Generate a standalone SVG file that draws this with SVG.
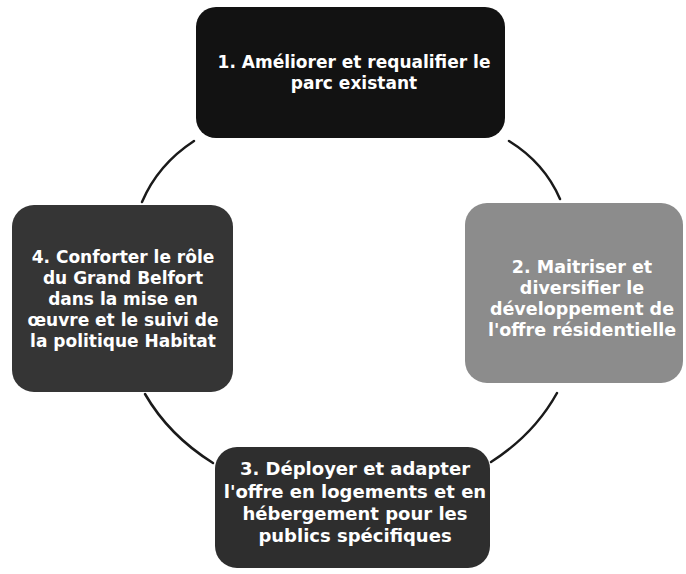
<svg xmlns="http://www.w3.org/2000/svg" width="686" height="574" viewBox="0 0 686 574">
<style>
.box{stroke:none}
.t{font-family:"DejaVu Sans","Liberation Sans",sans-serif;font-weight:bold;fill:#ffffff;text-anchor:middle}
.c{fill:none;stroke:#1a1a1a;stroke-width:2.5;stroke-linecap:round}
</style>
<rect width="686" height="574" fill="#ffffff"/>
<g id="connectors">
<path class="c" d="M194,141 Q158,164.5 142,202"/>
<path class="c" d="M509,141 Q544.5,163 560,199"/>
<path class="c" d="M145,394 Q169,435.5 213,463"/>
<path class="c" d="M557,393 Q534,434.5 491,462"/>
</g>
<g id="node1">
<rect class="box" x="196" y="7" width="309" height="131" rx="20" fill="#121212"/>
<text class="t" font-size="17" x="354"><tspan x="354" y="68">1. Améliorer et requalifier le</tspan><tspan x="354" y="89">parc existant</tspan></text>
</g>
<g id="node2">
<rect class="box" x="465" y="203" width="218" height="180" rx="22" fill="#8c8c8c"/>
<text class="t" font-size="17.5" x="582"><tspan x="582" y="273">2. Maitriser et</tspan><tspan x="582" y="294">diversifier le</tspan><tspan x="582" y="315">développement de</tspan><tspan x="582" y="336">l'offre résidentielle</tspan></text>
</g>
<g id="node3">
<rect class="box" x="215" y="447" width="275" height="121" rx="22" fill="#2e2e2e"/>
<text class="t" font-size="18" x="355"><tspan x="355" y="475">3. Déployer et adapter</tspan><tspan x="355" y="498">l'offre en logements et en</tspan><tspan x="355" y="520">hébergement pour les</tspan><tspan x="355" y="542">publics spécifiques</tspan></text>
</g>
<g id="node4">
<rect class="box" x="12" y="205" width="221" height="187" rx="22" fill="#353535"/>
<text class="t" font-size="17" x="123"><tspan x="123" y="263">4. Conforter le rôle</tspan><tspan x="123" y="284">du Grand Belfort</tspan><tspan x="123" y="305">dans la mise en</tspan><tspan x="123" y="326">œuvre et le suivi de</tspan><tspan x="123" y="347">la politique Habitat</tspan></text>
</g>
</svg>
